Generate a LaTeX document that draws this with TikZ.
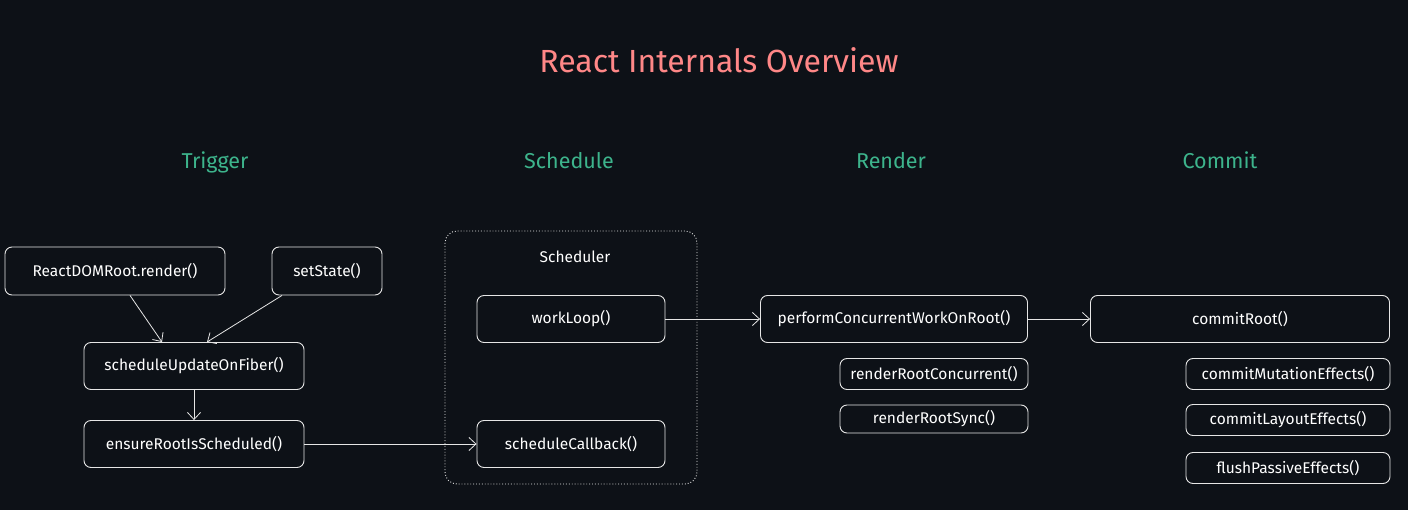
\documentclass[tikz,border=0pt]{standalone}
\usepackage{fontspec}
\setmainfont{Fira Sans}
\usetikzlibrary{arrows.meta,positioning}
\definecolor{bg}{HTML}{0D1117}
\definecolor{titlered}{HTML}{FF8787}
\definecolor{stagegreen}{HTML}{3DB48C}
\definecolor{edge}{HTML}{E6E6E6}

\begin{document}
\begin{tikzpicture}[x=1pt,y=-1pt,>={Straight Barb[length=7pt,width=13pt]},
  fn/.style={draw=edge,line width=0.9pt,rounded corners=7pt,text=white,inner sep=0pt,
    font=\fontsize{15.5}{18}\selectfont},
  stage/.style={text=stagegreen,font=\fontsize{21.5}{25}\selectfont,anchor=base},
  conn/.style={draw=edge,line width=0.8pt}]
\fill[bg] (0,0) rectangle (1408,510);
\node[text=titlered,font=\fontsize{32}{36}\selectfont] (title) at (719,60) {React Internals Overview};
% stages
\node[stage] (trigger) at (215,169) {Trigger};
\node[stage] (schedule) at (569,169) {Schedule};
\node[stage] (renderst) at (891,169) {Render};
\node[stage] (commit) at (1220,169) {Commit};
% trigger
\node[fn,minimum width=220,minimum height=48] (rootrender) at (115,271) {ReactDOMRoot.render()};
\node[fn,minimum width=110,minimum height=48] (setstate) at (327,271) {setState()};
\node[fn,minimum width=220,minimum height=47] (updfiber) at (194,366) {scheduleUpdateOnFiber()};
\node[fn,minimum width=220,minimum height=47] (ensure) at (194,444) {ensureRootIsScheduled()};
% scheduler
\draw[edge,dotted,line width=0.9pt,rounded corners=12pt] (445,231) rectangle (697,484);
\node[text=white,font=\fontsize{15.5}{18}\selectfont] (schedlbl) at (575,257) {Scheduler};
\node[fn,minimum width=188,minimum height=47] (workloop) at (571,319) {workLoop()};
\node[fn,minimum width=188,minimum height=47] (callback) at (571,444) {scheduleCallback()};
% render
\node[fn,minimum width=267,minimum height=47] (perform) at (894,319) {performConcurrentWorkOnRoot()};
\node[fn,minimum width=188,minimum height=31] (rrconc) at (934,374) {renderRootConcurrent()};
\node[fn,minimum width=188,minimum height=28] (rrsync) at (934,419) {renderRootSync()};
% commit
\node[fn,minimum width=299,minimum height=47] (commitroot) at (1240,319) {commitRoot()};
\node[fn,minimum width=204,minimum height=31] (mutation) at (1288,374) {commitMutationEffects()};
\node[fn,minimum width=204,minimum height=31] (layout) at (1288,420) {commitLayoutEffects()};
\node[fn,minimum width=204,minimum height=31] (passive) at (1288,468) {flushPassiveEffects()};
% arrows
\draw[conn,->] ([xshift=15pt]rootrender.south) -- ([xshift=-32pt]updfiber.north);
\draw[conn,->] ([xshift=-45pt]setstate.south) -- ([xshift=13pt]updfiber.north);
\draw[conn,->] (updfiber) -- (ensure);
\draw[conn,->] (ensure) -- (callback);
\draw[conn,->] (workloop) -- (perform);
\draw[conn,->] (perform) -- (commitroot);
\end{tikzpicture}
\end{document}
